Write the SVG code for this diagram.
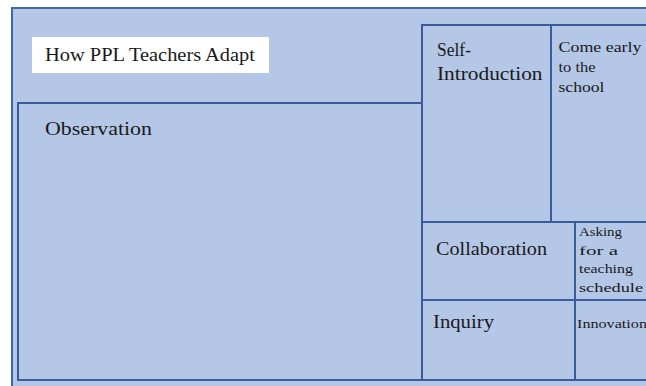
<svg xmlns="http://www.w3.org/2000/svg" width="646" height="386" viewBox="0 0 646 386">
  <style>
    .box { fill: #b4c7e7; stroke: #3a5c9a; stroke-width: 2; }
    .frame { fill: #b4c7e7; stroke: #4167a8; stroke-width: 2; }
    .label { font-family: "Liberation Serif", "Times New Roman", serif; fill: #1a1a1a; }
    .big { font-size: 18px; }
    .mid { font-size: 15px; }
    .small { font-size: 13px; }
  </style>

  <!-- background frame, running past the right and bottom edges -->
  <g id="frame">
    <rect class="frame" x="12" y="8" width="660" height="400"/>
  </g>

  <g id="title">
    <rect x="32" y="37" width="237" height="36" fill="#ffffff"/>
    <text class="label" x="45" y="61" font-size="18" textLength="210" lengthAdjust="spacingAndGlyphs">How PPL Teachers Adapt</text>
  </g>

  <g id="observation">
    <rect class="box" x="18" y="103" width="404" height="277"/>
    <text class="label" x="45" y="135" font-size="19" textLength="107" lengthAdjust="spacingAndGlyphs">Observation</text>
  </g>

  <g id="self-introduction">
    <rect class="box" x="422" y="25" width="129" height="197"/>
    <text class="label big" x="437" y="55.5" textLength="34" lengthAdjust="spacingAndGlyphs">Self-</text>
    <text class="label big" x="437" y="80" textLength="105.5" lengthAdjust="spacingAndGlyphs">Introduction</text>
  </g>

  <g id="come-early">
    <rect class="box" x="551" y="25" width="130" height="197"/>
    <text class="label mid" x="558.5" y="51.5" textLength="83" lengthAdjust="spacingAndGlyphs">Come early</text>
    <text class="label mid" x="558.5" y="71.5" textLength="37" lengthAdjust="spacingAndGlyphs">to the</text>
    <text class="label mid" x="558.5" y="91.5" textLength="46" lengthAdjust="spacingAndGlyphs">school</text>
  </g>

  <g id="collaboration">
    <rect class="box" x="422" y="222" width="153" height="78"/>
    <text class="label big" x="436" y="255" textLength="111" lengthAdjust="spacingAndGlyphs">Collaboration</text>
  </g>

  <g id="asking-schedule">
    <rect class="box" x="575" y="222" width="110" height="78"/>
    <text class="label small" x="579" y="236" textLength="43" lengthAdjust="spacingAndGlyphs">Asking</text>
    <text class="label small" x="579" y="254.5" textLength="39" lengthAdjust="spacingAndGlyphs">for a</text>
    <text class="label small" x="579" y="272.5" textLength="54" lengthAdjust="spacingAndGlyphs">teaching</text>
    <text class="label small" x="579" y="291.5" textLength="64" lengthAdjust="spacingAndGlyphs">schedule</text>
  </g>

  <g id="inquiry">
    <rect class="box" x="422" y="300" width="153" height="80"/>
    <text class="label big" x="433" y="328" textLength="61" lengthAdjust="spacingAndGlyphs">Inquiry</text>
  </g>

  <g id="innovation">
    <rect class="box" x="575" y="300" width="110" height="80"/>
    <text class="label" x="577" y="328" font-size="13.5" textLength="70" lengthAdjust="spacingAndGlyphs">Innovation</text>
  </g>

  <!-- no connectors between the boxes -->
  <g id="connectors"/>
</svg>
